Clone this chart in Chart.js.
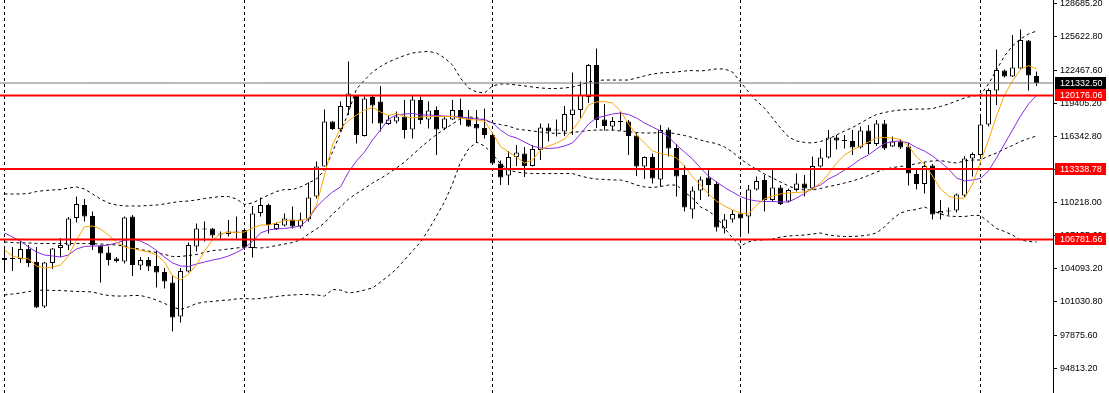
<!DOCTYPE html>
<html><head><meta charset="utf-8">
<script src="https://cdn.jsdelivr.net/npm/chart.js@4.4.1/dist/chart.umd.min.js"></script>
<style>html,body{margin:0;padding:0;background:#fff;}#wrap{width:1109px;height:393px;position:relative;}</style>
</head><body><div id="wrap"><canvas id="c"></canvas></div>
<script>
const openP = [
104864,105051,104958,105888,104678,100537,104585,105981,106214,108772,
109982,108958,106214,105562,105004,104725,108912,104352,104864,104306,
103748,102771,99607,103794,106121,107702,107795,107283,107283,107376,
107656,105981,109237,109982,107749,108074,108633,107982,108633,110773,
113565,117752,117054,119101,120217,116403,120031,119613,117519,117752,
118217,117007,119752,117938,118822,117100,117938,118822,118031,117519,
117147,116496,113844,112727,114448,114774,113611,115100,117194,116961,
116821,118356,118822,120031,123009,117938,117287,117752,117752,116450,
113565,114448,112355,117007,115286,112774,109563,111331,112541,111936,
107795,108633,109191,108912,111424,112308,110447,111610,110307,111378,
111982,111517,113565,114402,116263,115984,115937,115332,116914,115658,
117566,115425,115891,115425,112866,111936,113657,109191,109424,109470,
110866,114309,114635,117473,120636,122497,121939,122683,125289,121985];
const highP = [
106074,106074,106632,106260,106074,104678,105981,106912,108865,110773,
110540,109377,106260,106121,105144,108912,109051,105144,105144,105748,
104120,103468,104120,106493,108260,108447,107842,107516,108586,108912,
107795,109889,110680,110121,108354,109191,109842,109284,112076,114030,
118868,117798,119613,123335,120217,120078,120217,121055,118356,118682,
119752,120217,120078,119613,119147,118217,119752,119892,118822,118822,
118961,116635,114123,115007,115565,115379,115565,117566,117566,117938,
119194,122311,121474,123102,124544,119380,118170,118682,117891,116682,
114495,114774,117426,117194,115658,113704,111703,112634,113378,112169,
109144,109517,110447,111843,112634,112773,113285,111843,111517,112913,
112773,114495,115239,116961,116496,116496,116961,117287,117426,117891,
117891,116356,116124,115798,113285,113936,113797,110447,109750,111052,
114542,114867,118310,120822,124451,122590,125801,126312,125335,122404];
const lowP = [
103748,103841,104585,104213,100398,100398,104027,105144,105795,108354,
108447,105795,102771,104352,104631,104538,103376,103934,103841,102306,
102213,98211,99048,103701,105655,106586,106912,106865,107051,106865,
105795,105097,108912,107330,107656,107982,107795,107795,108447,110587,
113565,116961,116821,118356,115705,116356,117566,116821,117426,117566,
116170,116170,117519,117100,114635,116961,117891,117426,117240,115751,
116170,113704,111843,111843,113611,112587,113565,114169,115891,116356,
116403,116496,118077,119473,117147,116914,116914,116914,114635,112681,
112401,111983,111704,114495,110773,109377,108726,110447,110773,107516,
107330,108354,107051,107330,111331,109377,110307,109982,110214,111238,
110773,111378,113471,114309,115146,115239,114635,115239,114727,115472,
115100,115379,115193,111796,111424,111052,108633,108633,109051,109284,
110726,112634,114495,117287,119287,121846,121892,122683,120636,121055];
const closeP = [
105051,104958,105888,104585,100445,104631,105934,106260,108726,110075,
108912,106260,105469,104864,104771,108819,104399,104864,104260,103701,
102863,99514,103841,106260,107795,107749,107144,107237,107516,107516,
106028,109191,109982,108121,108214,108726,107982,108633,110680,113564,
117752,117054,119194,120357,116496,119892,119241,117566,117938,118217,
116961,119799,117891,118775,117007,118031,118822,118031,117287,117100,
116496,113844,112541,114448,114867,113611,115193,117194,116821,116914,
118449,118868,120217,123009,117891,117333,117798,117705,116403,113565,
114448,112448,116961,115239,112634,109749,111331,112355,111843,107888,
108633,109144,108726,111424,112215,110447,111610,110075,111378,111982,
111517,113611,114402,116263,115984,115937,115332,116914,115658,117566,
115239,115891,115332,112913,111936,113611,109098,109424,109377,110959,
114309,114727,117473,120683,122544,121939,122776,125335,122032,121332.5];
const maFast = [
105800,105240,105050,104960,104310,104120,104210,104400,105240,106730,
107940,108030,107750,107190,106540,106070,105930,105750,105610,105330,
104680,103380,103000,103560,104400,105700,106730,107280,107470,107420,
107470,107840,108120,108120,108310,108540,108590,108490,108770,109980,
112770,115570,117150,117800,118360,118820,119050,118640,118310,118500,
118220,118080,118170,118220,118220,118220,118220,118080,117940,117890,
117800,116680,115430,114910,114450,113890,114170,115100,115470,115750,
116120,116960,117980,119290,119570,119610,119470,118730,117520,116500,
115750,115010,114770,114640,114360,113610,112590,111840,111010,110350,
109890,109520,109240,109140,109980,110540,110820,111010,111100,111150,
111190,111470,112030,112870,113890,114640,115100,115470,115840,116220,
116260,116220,116080,115470,114450,113800,112680,111470,110820,110590,
110630,111940,113980,116030,118260,120220,121520,122590,122960,122640];
const maSlow = [
107380,107000,106630,106070,105610,105330,105240,105140,105330,105890,
106120,106170,106170,106260,106450,106680,106820,106630,106260,105750,
105140,104590,104310,104260,104490,104680,104860,105000,105240,105560,
105980,106590,107380,107660,107750,107800,107890,108030,108680,109800,
110540,111190,111660,113050,114080,114910,116030,116960,117980,118360,
118450,118500,118360,118360,118310,118260,118220,118170,118080,117980,
117940,117610,116960,116450,116220,115840,115470,115290,115240,115290,
115470,115750,116590,117520,118080,118260,118450,118540,118400,118080,
117610,117240,116870,116310,115570,114910,114260,113430,112680,112120,
111610,111190,110770,110490,110350,110310,110310,110260,110260,110630,
111050,111560,111840,112400,112770,113240,113700,114260,114640,115190,
115700,115890,115940,115750,115330,115010,114540,113980,113330,112500,
112220,112310,112450,113150,114360,115660,116960,118260,119380,120170];
const bbUpper = [
111010,111010,111010,111050,111240,111330,111380,111420,111560,111660,
111470,111010,110540,110170,109980,109890,109890,109890,109940,109980,
110080,110210,110310,110350,110450,110590,110680,110770,110770,110540,
110030,110170,110540,110910,111240,111420,111420,111660,112030,112400,
113240,114910,116680,118640,120780,121610,122360,122870,123290,123610,
123890,124130,124220,124270,124130,123660,123010,121800,120870,120500,
120400,121060,121240,121240,121150,121060,120960,120870,120820,120820,
120870,120960,121150,121430,121570,121610,121610,121610,121610,121800,
121990,122170,122270,122310,122360,122450,122500,122450,122540,122640,
122640,122360,121430,120500,119660,119010,118080,117150,116310,115940,
115800,115750,115890,116120,116500,116870,117190,117610,118030,118400,
118590,118730,118820,118870,118910,118910,118960,119150,119380,119660,
119940,120120,120220,121240,122540,123850,124780,125430,125890,126170];
const bbMiddle = [
106540,106490,106450,106450,106400,106400,106400,106400,106400,106400,
106400,106400,106350,106310,106260,106170,106030,105840,105700,105560,
105380,105190,105190,105280,105380,105560,105750,105800,105890,105980,
106070,106030,105980,106070,106210,106350,106490,106730,107280,107750,
108310,109140,109800,110540,111050,111520,112030,112450,112910,113430,
113980,114640,115330,115940,116540,117050,117520,118030,118170,118120,
117890,117610,117470,117330,117050,116960,116870,116770,116680,116650,
116650,116730,116820,116910,116960,116960,116960,116870,116820,116730,
116680,116680,116730,116730,116590,116450,116260,116030,115840,115700,
115380,114910,114260,113750,113290,112870,112500,112120,111750,111470,
111380,111380,111520,111700,111840,112030,112220,112450,112730,113050,
113290,113470,113570,113660,113840,113980,114080,114120,113980,113890,
114080,114170,114170,114540,114820,115190,115520,115890,116170,116400];
const bbLower = [
101610,101700,101790,101930,102030,102070,102030,102030,101980,101930,
101930,101890,101700,101560,101510,101510,101560,101560,101380,101140,
100820,100490,100260,100490,100820,100960,101000,101100,101140,101240,
101280,101240,101280,101380,101470,101560,101610,101650,101650,101610,
101510,102120,102070,101790,101890,102070,102260,102820,103380,104030,
104860,105700,106540,107660,108960,110260,111940,113980,115190,115840,
115470,114730,113800,113240,113050,112960,112910,112910,112910,112910,
112910,112910,112680,112500,112400,112360,112310,112310,112120,111840,
111660,111610,111700,111840,111840,111190,110630,109800,109420,108870,
107840,106910,106170,106540,106730,106730,106820,107000,107100,107140,
107190,107280,107380,107190,107100,107050,107050,107100,107190,107380,
107940,108680,109240,109470,109560,109800,109470,109140,108960,108910,
108910,109010,109010,108400,107800,107520,107190,106730,106590,106540];
const levels = [120176.06, 113338.78, 106781.66];
const lastPrice = 121332.50;
const monthStarts = [0, 30, 61, 92, 122];
const yTicks = [128685.20,125622.80,122467.60,119405.20,116342.80,113280.40,110218.00,107155.60,104093.20,101030.80,97875.60,94813.20];

const yMin = 92488.75, yMax = 129057.4;
const xMin = -0.5625, xMax = 131.0625;
const FONT = {family: 'Liberation Sans, Arial, sans-serif', size: 9};

const pts = arr => arr.map((v, i) => ({x: i, y: v}));
const hline = v => [{x: xMin, y: v}, {x: xMax, y: v}];
const sepData = [];
monthStarts.forEach(k => { sepData.push({x: k, y: yMax}, {x: k, y: yMin}, {x: k, y: null}); });

const lineDs = (data, color, order, dash) => ({
  type: 'line', data, borderColor: color, borderWidth: 1, borderDash: dash || [],
  pointRadius: 0, fill: false, tension: 0, order, spanGaps: false
});

const datasets = [
  lineDs(sepData, '#000', 10, [3, 3]),
  {
    type: 'bar', order: 6, grouped: false, barThickness: 1, borderWidth: 0, inflateAmount: 0,
    backgroundColor: '#000',
    data: highP.map((h, i) => ({x: i, y: [lowP[i], h]}))
  },
  {
    type: 'bar', order: 5, grouped: false, barThickness: 5, borderWidth: 1, borderColor: '#000',
    borderSkipped: false, minBarLength: 1, inflateAmount: 0,
    backgroundColor: openP.map((o, i) => closeP[i] >= o ? '#ffffff' : '#000000'),
    data: openP.map((o, i) => ({x: i, y: [Math.min(o, closeP[i]), Math.max(o, closeP[i])]}))
  },
  lineDs(pts(bbUpper), '#000', 4, [3, 3]),
  lineDs(pts(bbMiddle), '#000', 4, [3, 3]),
  lineDs(pts(bbLower), '#000', 4, [3, 3]),
  lineDs(pts(maSlow), '#8a2be2', 3),
  lineDs(pts(maFast), '#ffa500', 2),
  lineDs(hline(lastPrice), '#6f7780', 1.5),
];
levels.forEach(v => { const d = lineDs(hline(v), '#ff0000', 1); d.borderWidth = 2; datasets.push(d); });

const boxPlugin = {
  id: 'priceBoxes',
  afterDraw(chart) {
    const ctx = chart.ctx, ys = chart.scales.y;
    const x0 = chart.chartArea.right + 2;
    const draw = (v, bg) => {
      const yc = ys.getPixelForValue(v);
      ctx.save();
      ctx.fillStyle = bg;
      ctx.fillRect(x0, Math.round(yc) - 6, 51, 12);
      ctx.fillStyle = '#fff';
      ctx.font = FONT.size + 'px ' + FONT.family;
      ctx.textBaseline = 'middle';
      ctx.textAlign = 'left';
      ctx.fillText(v.toFixed(2), x0 + 5, Math.round(yc) + 0.5);
      ctx.restore();
    };
    draw(lastPrice, '#000');
    levels.forEach(v => draw(v, '#ff0000'));
  }
};

new Chart(document.getElementById('c'), {
  type: 'bar',
  data: {datasets},
  options: {
    responsive: true, maintainAspectRatio: false, animation: false, devicePixelRatio: 1,
    events: [],
    layout: {padding: 0},
    plugins: {legend: {display: false}, tooltip: {enabled: false}},
    scales: {
      x: {type: 'linear', min: xMin, max: xMax, display: false, offset: false},
      y: {
        type: 'linear', position: 'right', min: yMin, max: yMax,
        afterBuildTicks: s => { s.ticks = yTicks.map(v => ({value: v})); },
        afterFit: s => { s.width = 56; s.paddingTop = 0; s.paddingBottom = 0; },
        ticks: {autoSkip: false, padding: 3, color: '#000', font: FONT,
                callback: v => Number(v).toFixed(2)},
        grid: {drawOnChartArea: false, drawTicks: true, tickLength: 4, color: '#000'},
        border: {display: true, color: '#000', width: 1}
      }
    }
  },
  plugins: [boxPlugin]
});
</script>
</body></html>
